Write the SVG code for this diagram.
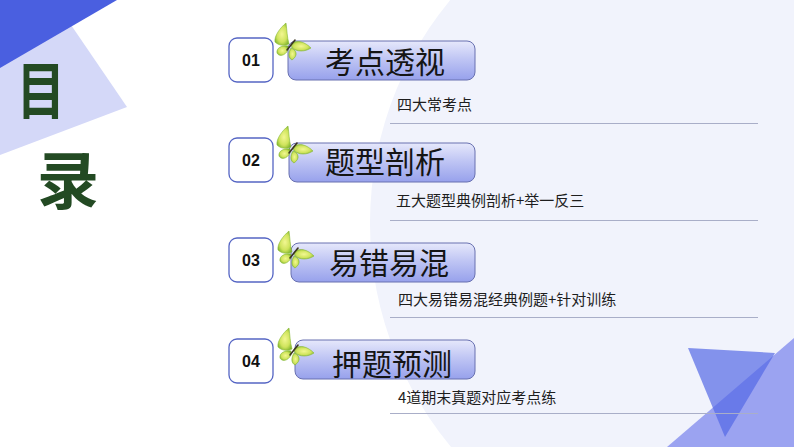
<svg xmlns="http://www.w3.org/2000/svg" xmlns:xlink="http://www.w3.org/1999/xlink" width="794" height="447" viewBox="0 0 794 447">
<style>
.num{fill:#fff;stroke:#5565c4;stroke-width:1.3}
.numt{font-family:"Liberation Sans",Arial,sans-serif;font-weight:bold;font-size:16px;fill:#111;text-anchor:middle}
.bar{fill:url(#barg);stroke:#6870b0;stroke-width:1}
.title{font-family:"Noto Sans CJK SC","Noto Sans",sans-serif;font-size:30px;fill:#151515;text-anchor:middle}
.sub{font-family:"Noto Sans CJK SC","Noto Sans",sans-serif;font-size:15px;fill:#1e1e1e}
.sep{stroke:#a9aec8;stroke-width:1}
.big{font-family:"Noto Sans CJK SC",sans-serif;font-weight:700;font-size:62px;fill:#234a23;text-anchor:middle}
</style>
<defs>
<linearGradient id="barg" x1="0" y1="0" x2="0" y2="1">
<stop offset="0" stop-color="#e6e8fb"/>
<stop offset="0.45" stop-color="#c0c6f4"/>
<stop offset="1" stop-color="#97a1ec"/>
</linearGradient>
<radialGradient id="wing" cx="0.5" cy="0.5" r="0.6">
<stop offset="0" stop-color="#f2f792"/>
<stop offset="0.6" stop-color="#cfe45c"/>
<stop offset="1" stop-color="#7cb22c"/>
</radialGradient>
<g id="bfly">
<path d="M-1,-1 C-3,-8 -3,-15 -4,-22 C-10,-17 -16,-9 -15,-3 C-11,1 -5,1 -1,-1 Z" fill="url(#wing)" stroke="#86b836" stroke-width="0.6"/>
<path d="M-2,1 C-8,0 -14,3 -13,8 C-11,12 -5,11 -2,5 Z" fill="url(#wing)" stroke="#86b836" stroke-width="0.6"/>
<path d="M1,-1 C7,-6 15,-3 21,3 C15,7 7,7 2,3 Z" fill="url(#wing)" stroke="#86b836" stroke-width="0.6"/>
<path d="M1,3 C6,5 9,10 2,15 C-2,13 -2,8 1,3 Z" fill="url(#wing)" stroke="#86b836" stroke-width="0.6"/>
<line x1="-3" y1="5" x2="5" y2="-5" stroke="#3a3320" stroke-width="1.6" stroke-linecap="round"/>
</g>
</defs>
<rect width="794" height="447" fill="#ffffff"/>
<g id="background">
<circle cx="720" cy="223" r="350" fill="#f1f3fc"/>
<polygon points="0,0 54,0 127,107 0,155" fill="#d4d8f8"/>
<polygon points="0,0 117,0 0,68" fill="#4a5fe0"/>
<polygon points="667,447 794,338 794,447" fill="#9ba3f1"/>
<polygon points="688,348 775,353 725,437" fill="#5468e6" fill-opacity="0.7"/>
</g>
<g id="heading">
<text class="big" transform="translate(41 114) scale(0.78 1)" x="0" y="0">目</text>
<text class="big" x="68" y="204">录</text>
</g>
<g id="connectors">
<line class="sep" x1="390" y1="123.5" x2="758" y2="123.5"/>
<line class="sep" x1="390" y1="220.5" x2="758" y2="220.5"/>
<line class="sep" x1="390" y1="317.5" x2="758" y2="317.5"/>
<line class="sep" x1="390" y1="413.5" x2="758" y2="413.5"/>
</g>
<g id="item1">
<rect class="num" x="229" y="38" width="44" height="44" rx="8"/>
<text class="numt" x="251" y="66">01</text>
<rect class="bar" x="288" y="41" width="187" height="39" rx="8"/>
<use xlink:href="#bfly" x="290" y="45"/>
<text class="title" x="385" y="73">考点透视</text>
<text class="sub" x="397" y="110">四大常考点</text>
</g>
<g id="item2">
<rect class="num" x="229" y="138" width="44" height="44" rx="8"/>
<text class="numt" x="251" y="166">02</text>
<rect class="bar" x="289" y="143" width="186" height="39" rx="8"/>
<use xlink:href="#bfly" x="292" y="148"/>
<text class="title" x="385" y="173">题型剖析</text>
<text class="sub" x="396" y="206">五大题型典例剖析+举一反三</text>
</g>
<g id="item3">
<rect class="num" x="229" y="238" width="44" height="44" rx="8"/>
<text class="numt" x="251" y="266">03</text>
<rect class="bar" x="291" y="243" width="184" height="39" rx="8"/>
<use xlink:href="#bfly" x="293" y="253"/>
<text class="title" x="389" y="274">易错易混</text>
<text class="sub" x="398" y="305">四大易错易混经典例题+针对训练</text>
</g>
<g id="item4">
<rect class="num" x="229" y="339" width="44" height="44" rx="8"/>
<text class="numt" x="251" y="367">04</text>
<rect class="bar" x="295" y="340" width="180" height="39" rx="8"/>
<use xlink:href="#bfly" x="293" y="350"/>
<text class="title" x="392" y="375">押题预测</text>
<text class="sub" x="398" y="403">4道期末真题对应考点练</text>
</g>
</svg>
